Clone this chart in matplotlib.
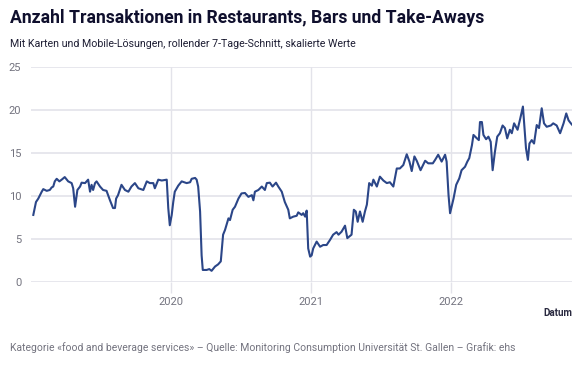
import matplotlib
matplotlib.use("Agg")
import matplotlib.pyplot as plt
import matplotlib.dates as mdates
import pandas as pd

# Values (rolling 7-day mean, scaled)
dates = [
    "2019-01-07", "2019-01-14", "2019-01-20", "2019-01-29", "2019-02-02", "2019-02-11",
    "2019-02-19", "2019-02-24", "2019-02-28", "2019-03-04", "2019-03-09", "2019-03-16",
    "2019-03-22", "2019-03-30", "2019-04-08", "2019-04-17", "2019-04-21", "2019-04-26",
    "2019-05-02", "2019-05-09", "2019-05-13", "2019-05-22", "2019-05-30", "2019-06-04",
    "2019-06-08", "2019-06-12", "2019-06-17", "2019-06-21", "2019-06-30", "2019-07-08",
    "2019-07-17", "2019-07-26", "2019-08-03", "2019-08-08", "2019-08-11", "2019-08-16",
    "2019-08-25", "2019-09-03", "2019-09-12", "2019-09-20", "2019-09-29", "2019-10-08",
    "2019-10-21", "2019-10-30", "2019-11-07", "2019-11-16", "2019-11-20", "2019-11-29",
    "2019-12-08", "2019-12-21", "2019-12-25", "2019-12-29", "2020-01-03", "2020-01-07",
    "2020-01-11", "2020-01-20", "2020-01-29", "2020-02-11", "2020-02-20", "2020-02-24",
    "2020-03-04", "2020-03-08", "2020-03-12", "2020-03-17", "2020-03-21", "2020-03-24",
    "2020-04-03", "2020-04-10", "2020-04-16", "2020-04-25", "2020-05-03", "2020-05-10",
    "2020-05-16", "2020-05-21", "2020-05-30", "2020-06-03", "2020-06-10", "2020-06-16",
    "2020-06-25", "2020-07-03", "2020-07-12", "2020-07-21", "2020-07-30", "2020-08-03",
    "2020-08-07", "2020-08-16", "2020-08-25", "2020-09-02", "2020-09-07", "2020-09-15",
    "2020-09-22", "2020-10-01", "2020-10-07", "2020-10-16", "2020-10-24", "2020-11-02",
    "2020-11-06", "2020-11-15", "2020-11-24", "2020-11-28", "2020-12-07", "2020-12-11",
    "2020-12-16", "2020-12-20", "2020-12-24", "2020-12-29", "2021-01-02", "2021-01-06",
    "2021-01-15", "2021-01-24", "2021-02-01", "2021-02-10", "2021-02-19", "2021-02-27",
    "2021-03-08", "2021-03-13", "2021-03-21", "2021-03-30", "2021-04-05", "2021-04-16",
    "2021-04-22", "2021-04-27", "2021-05-02", "2021-05-08", "2021-05-15", "2021-05-21",
    "2021-05-26", "2021-06-01", "2021-06-08", "2021-06-12", "2021-06-21", "2021-06-29",
    "2021-07-08", "2021-07-17", "2021-07-25", "2021-08-03", "2021-08-12", "2021-08-20",
    "2021-08-29", "2021-09-07", "2021-09-14", "2021-09-20", "2021-09-27", "2021-10-03",
    "2021-10-13", "2021-10-25", "2021-11-02", "2021-11-14", "2021-11-20", "2021-11-28",
    "2021-12-07", "2021-12-16", "2021-12-20", "2021-12-25", "2021-12-29", "2022-01-07",
    "2022-01-14", "2022-01-22", "2022-01-28", "2022-02-06", "2022-02-12", "2022-02-17",
    "2022-02-24", "2022-02-28", "2022-03-09", "2022-03-14", "2022-03-17", "2022-03-22",
    "2022-03-26", "2022-04-02", "2022-04-08", "2022-04-14", "2022-04-19", "2022-04-25",
    "2022-05-01", "2022-05-08", "2022-05-15", "2022-05-21", "2022-05-27", "2022-06-03",
    "2022-06-08", "2022-06-14", "2022-06-23", "2022-06-30", "2022-07-07", "2022-07-10",
    "2022-07-15", "2022-07-20", "2022-07-24", "2022-07-30", "2022-08-05", "2022-08-12",
    "2022-08-18", "2022-08-25", "2022-08-31", "2022-09-07", "2022-09-18", "2022-09-24",
    "2022-10-03", "2022-10-12", "2022-10-21", "2022-10-28", "2022-11-03", "2022-11-09",
    "2022-11-12",
]
values = [
    7.8, 9.3, 9.7, 10.5, 10.8, 10.6,
    10.7, 11.0, 11.1, 11.7, 12.0, 11.7,
    11.9, 12.2, 11.7, 11.5, 10.9, 8.75,
    10.7, 11.1, 11.55, 11.5, 11.9, 10.5,
    11.3, 10.7, 11.5, 11.7, 11.1, 10.7,
    10.6, 9.5, 8.6, 8.6, 9.7, 10.1,
    11.3, 10.7, 10.5, 11.1, 11.5, 10.9,
    10.7, 11.7, 11.5, 11.5, 10.9, 11.9,
    11.8, 11.9, 8.6, 6.6, 7.8, 9.3,
    10.5, 11.2, 11.7, 11.5, 11.6, 12.0,
    12.1, 11.9, 11.1, 8.2, 3.1, 1.4,
    1.4, 1.5, 1.3, 1.8, 2.05, 2.4,
    5.5, 6.05, 7.4, 7.2, 8.4, 8.75,
    9.7, 10.3, 10.35, 9.9, 10.1, 9.5,
    10.5, 10.7, 11.1, 10.7, 11.5, 11.55,
    11.1, 11.55, 11.1, 10.5, 9.3, 8.4,
    7.4, 7.6, 7.7, 8.1, 7.8, 8.0,
    7.6, 8.3, 3.9, 2.95, 3.1, 3.9,
    4.7, 4.1, 4.3, 4.3, 4.9, 5.5,
    5.8, 5.5, 5.85, 6.55, 5.1, 5.5,
    8.4, 8.2, 7.0, 8.2, 7.0, 8.2,
    9.0, 11.5, 11.2, 11.9, 11.1, 12.25,
    11.8, 11.5, 11.6, 11.1, 13.2, 13.2,
    13.6, 14.85, 14.0, 12.9, 14.6, 14.1,
    13.0, 14.1, 13.8, 13.8, 14.2, 14.8,
    14.0, 14.8, 14.0, 10.1, 8.0, 9.7,
    11.3, 12.05, 13.0, 13.4, 14.0, 14.4,
    15.9, 17.1, 16.7, 16.5, 18.6, 18.6,
    17.1, 16.6, 16.9, 16.3, 13.0, 15.15,
    16.9, 17.3, 18.2, 17.9, 16.7, 17.7,
    17.3, 18.45, 17.7, 19.0, 20.4, 18.6,
    15.55, 14.2, 16.1, 16.5, 16.1, 18.25,
    17.9, 20.2, 18.45, 18.05, 18.2, 18.45,
    18.2, 17.3, 18.45, 19.6, 18.8, 18.45,
    18.3,
]
y_ticks = [0, 5, 10, 15, 20, 25]
x_ticks = ["2020-01-01", "2021-01-01", "2022-01-01"]

title = "Anzahl Transaktionen in Restaurants, Bars und Take-Aways"
subtitle = "Mit Karten und Mobile-Lösungen, rollender 7-Tage-Schnitt, skalierte Werte"
footer = ("Kategorie «food and beverage services» – Quelle: Monitoring Consumption "
          "Universität St. Gallen – Grafik: ehs")

plt.rcParams["font.family"] = ["Roboto", "DejaVu Sans"]

df = pd.DataFrame({"datum": pd.to_datetime(dates), "wert": values})

fig = plt.figure(figsize=(5.82, 3.65), dpi=100)
ax = fig.add_axes([31 / 582, 83 / 365, 541 / 582, 215 / 365])

grid_col = "#e3e3ea"
ax.plot(df["datum"], df["wert"], color="#2b4688", lw=1.5, zorder=3)

ax.set_ylim(0, 25)
ax.set_yticks(y_ticks)
ax.set_xlim(pd.Timestamp("2019-01-01"), df["datum"].iloc[-1])
ax.set_xticks(pd.to_datetime(x_ticks))
ax.xaxis.set_major_formatter(mdates.DateFormatter("%Y"))

ax.grid(axis="y", color=grid_col, lw=1.2)
ax.grid(axis="x", color=grid_col, lw=1.0)
for s in ax.spines.values():
    s.set_visible(False)
ax.tick_params(axis="y", length=0, pad=7, labelsize=8, labelcolor="#73737f")
ax.tick_params(axis="x", length=8, width=1.0, color=grid_col, pad=3,
               labelsize=8, labelcolor="#73737f")

fig.text(10 / 582, 1 - 18 / 365, title, fontsize=12.7, fontweight="bold",
         color="#0f0f2d", va="center", ha="left")
fig.text(10 / 582, 1 - 44 / 365, subtitle, fontsize=7.7, color="#1d1d33",
         va="center", ha="left")
fig.text(572 / 582, 1 - 313 / 365, "Datum", fontsize=7.1, fontweight="bold",
         color="#2a2a40", va="center", ha="right")
fig.text(10 / 582, 1 - 348 / 365, footer, fontsize=7.5, color="#73737f",
         va="center", ha="left")

fig.savefig("out.png", dpi=100)
